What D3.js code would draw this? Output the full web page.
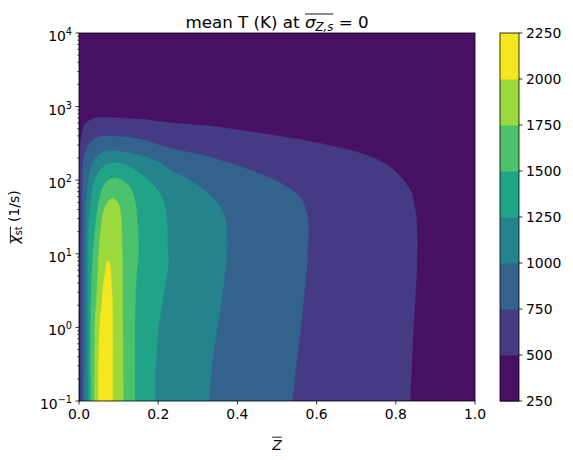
<!DOCTYPE html>
<html>
<head>
<meta charset="utf-8">
<script src="https://cdn.jsdelivr.net/npm/d3@7"></script>
<style>
  body { margin: 0; background: #fff; }
  text { font-family: "DejaVu Sans", sans-serif; fill: #000; }
</style>
</head>
<body>
<svg id="chart" width="573" height="460"></svg>
<script>
// contour levels (K) and the x / y ticks
var levels = [250, 500, 750, 1000, 1250, 1500, 1750, 2000, 2250];
var zTicks = [0, 0.2, 0.4, 0.6, 0.8, 1.0];
var chiDecades = [-1, 0, 1, 2, 3, 4];
// colour map spans the temperature range of the field (min, max, estimated)
var tempRange = [300, 2150];

// contour outlines: [Z, log10(chi_st)]
// each one runs up the left side, over the top and down the right side
var T500 = [[0.0025,-1],[0.0025,0.5],[0.002,1.6],[0.001,2.18],[0.0025,2.37],[0.005,2.55],[0.009,2.68],[0.015,2.77],[0.04,2.84],[0.07,2.85],[0.154,2.83],[0.229,2.78],[0.356,2.72],[0.48,2.62],[0.609,2.5],[0.727,2.34],[0.777,2.21],[0.811,2.05],[0.836,1.87],[0.848,1.64],[0.854,1.28],[0.853,0.83],[0.844,-0.08],[0.836,-1]];
var T750 = [[0.008,-1],[0.008,0.0],[0.0083,1.5],[0.0093,1.96],[0.011,2.25],[0.016,2.38],[0.03,2.52],[0.05,2.59],[0.078,2.6],[0.162,2.55],[0.23,2.43],[0.314,2.34],[0.398,2.2],[0.465,2.07],[0.516,1.94],[0.558,1.77],[0.575,1.55],[0.579,1.32],[0.578,1.19],[0.575,0.8],[0.558,-0.08],[0.538,-1]];
var T1000 = [[0.015,-1],[0.016,0.0],[0.017,1.2],[0.018,1.68],[0.023,1.98],[0.031,2.2],[0.045,2.33],[0.06,2.38],[0.078,2.4],[0.162,2.33],[0.2,2.25],[0.23,2.14],[0.28,2.0],[0.3225,1.84],[0.352,1.67],[0.369,1.5],[0.373,1.32],[0.373,1.0],[0.366,0.62],[0.348,-0.05],[0.336,-0.49],[0.327,-1]];
var T1250 = [[0.0235,-1],[0.0235,0.0],[0.0235,1.05],[0.025,1.41],[0.032,1.78],[0.04,2.0],[0.057,2.16],[0.08,2.23],[0.11,2.22],[0.141,2.14],[0.184,1.96],[0.213,1.73],[0.221,1.5],[0.224,1.05],[0.2255,0.87],[0.213,0.42],[0.2,-0.035],[0.194,-0.49],[0.193,-1]];
var T1500 = [[0.0303,-1],[0.0295,-0.17],[0.032,0.6],[0.036,1.05],[0.0447,1.5],[0.053,1.78],[0.066,1.96],[0.09,2.03],[0.1245,1.935],[0.141,1.73],[0.147,1.46],[0.15,1.05],[0.144,0.64],[0.141,-0.035],[0.141,-1]];
var T1750 = [[0.0386,-1],[0.04,-0.17],[0.04,0.035],[0.0447,0.42],[0.049,0.87],[0.0505,1.05],[0.057,1.41],[0.066,1.64],[0.083,1.75],[0.099,1.69],[0.106,1.5],[0.109,1.05],[0.11,0.42],[0.112,-1]];
var T2000 = [[0.049,-1],[0.049,-0.715],[0.051,-0.17],[0.053,0.056],[0.057,0.28],[0.061,0.55],[0.066,0.735],[0.07,0.87],[0.074,0.9],[0.078,0.87],[0.081,0.64],[0.084,0.37],[0.085,-0.17],[0.085,-1]];

var outlines = [T500, T750, T1000, T1250, T1500, T1750, T2000];

var svg = d3.select("#chart");
var plot = {left: 79, right: 475, top: 33, bottom: 401};
var cbar = {left: 500, right: 519};

var x = d3.scaleLinear().domain([0, 1]).range([plot.left, plot.right]);
var y = d3.scaleLog().domain([0.1, 1e4]).range([plot.bottom, plot.top]);
var cy = d3.scaleLinear().domain([levels[0], levels[levels.length - 1]]).range([plot.bottom, plot.top]);
var norm = d3.scaleLinear().domain(tempRange).range([0, 1]).clamp(true);

// each band takes the colour of its mid value, like contourf does
var bandColor = function(i) {
    return d3.interpolateViridis(norm((levels[i] + levels[i + 1]) / 2));
};

svg.append("clipPath").attr("id", "clip")
    .append("rect")
    .attr("x", plot.left).attr("y", plot.top)
    .attr("width", plot.right - plot.left).attr("height", plot.bottom - plot.top);

var field = svg.append("g").attr("clip-path", "url(#clip)");

field.append("rect")
    .attr("x", plot.left).attr("y", plot.top)
    .attr("width", plot.right - plot.left).attr("height", plot.bottom - plot.top)
    .attr("fill", bandColor(0));

var line = d3.line()
    .x(function (d) { return x(d[0]); })
    .y(function (d) { return y(Math.pow(10, d[1])); })
    .curve(d3.curveCatmullRom.alpha(0.5));

field.selectAll("path.band")
    .data(outlines)
    .enter().append("path")
    .attr("class", "band")
    .attr("d", function (d) { return line(d) + "Z"; })
    .attr("fill", function (d, i) { return bandColor(i + 1); })
    .attr("stroke", function (d, i) { return bandColor(i + 1); })
    .attr("stroke-width", 0.5);

// frame
svg.append("rect")
    .attr("x", plot.left).attr("y", plot.top)
    .attr("width", plot.right - plot.left).attr("height", plot.bottom - plot.top)
    .attr("fill", "none").attr("stroke", "#000").attr("stroke-width", 0.8);

// x axis
var xAxis = svg.append("g");
zTicks.forEach(function (t) {
    xAxis.append("line")
        .attr("x1", x(t)).attr("x2", x(t))
        .attr("y1", plot.bottom).attr("y2", plot.bottom + 3.5)
        .attr("stroke", "#000").attr("stroke-width", 0.8);
    xAxis.append("text")
        .attr("x", x(t)).attr("y", plot.bottom + 18)
        .attr("text-anchor", "middle")
        .attr("font-size", 13.9)
        .text(t.toFixed(1));
});

// y axis, log decades + minor ticks
var yAxis = svg.append("g");
chiDecades.forEach(function (p) {
    var v = Math.pow(10, p);
    yAxis.append("line")
        .attr("x1", plot.left - 3.5).attr("x2", plot.left)
        .attr("y1", y(v)).attr("y2", y(v))
        .attr("stroke", "#000").attr("stroke-width", 0.8);
    var lab = yAxis.append("text")
        .attr("x", plot.left - 7).attr("y", y(v) + 8)
        .attr("text-anchor", "end")
        .attr("font-size", 13.9);
    lab.append("tspan").text("10");
    lab.append("tspan").attr("dy", -6).attr("font-size", 9.7)
        .text(p < 0 ? "\u2212" + (-p) : String(p));
    if (p < 4) {
        for (var m = 2; m <= 9; m++) {
            yAxis.append("line")
                .attr("x1", plot.left - 2).attr("x2", plot.left)
                .attr("y1", y(m * v)).attr("y2", y(m * v))
                .attr("stroke", "#000").attr("stroke-width", 0.6);
        }
    }
});

// colorbar
var cb = svg.append("g");
cb.selectAll("rect.cb")
    .data(levels.slice(0, -1))
    .enter().append("rect")
    .attr("class", "cb")
    .attr("x", cbar.left)
    .attr("y", function (d, i) { return cy(levels[i + 1]); })
    .attr("width", cbar.right - cbar.left)
    .attr("height", function (d, i) { return cy(levels[i]) - cy(levels[i + 1]) + 0.5; })
    .attr("fill", function (d, i) { return bandColor(i); });
cb.append("rect")
    .attr("x", cbar.left).attr("y", plot.top)
    .attr("width", cbar.right - cbar.left).attr("height", plot.bottom - plot.top)
    .attr("fill", "none").attr("stroke", "#000").attr("stroke-width", 0.8);
levels.forEach(function (l) {
    cb.append("line")
        .attr("x1", cbar.right).attr("x2", cbar.right + 3.5)
        .attr("y1", cy(l)).attr("y2", cy(l))
        .attr("stroke", "#000").attr("stroke-width", 0.8);
    cb.append("text")
        .attr("x", cbar.right + 7).attr("y", cy(l) + 5)
        .attr("font-size", 13.9)
        .text(l);
});

// text made of pieces, with subscripts and an overline over some chars
var mathText = function(g, pieces, size, over, overHeight) {
    var t = g.append("text").attr("font-size", size);
    var shift = 0;
    pieces.forEach(function (p) {
        var s = p.sub ? size * 0.22 : 0;
        var ts = t.append("tspan").text(p.t).attr("dy", s - shift);
        if (p.sub) ts.attr("font-size", size * 0.7);
        if (p.italic) ts.attr("font-style", "italic");
        shift = s;
    });
    var node = t.node();
    var w = node.getComputedTextLength();
    t.attr("x", -w / 2);
    if (over) {
        var a = node.getStartPositionOfChar(over[0]).x;
        var b = node.getEndPositionOfChar(over[1]).x;
        g.append("line")
            .attr("x1", a).attr("x2", b)
            .attr("y1", -overHeight).attr("y2", -overHeight)
            .attr("stroke", "#000").attr("stroke-width", 0.9);
    }
    return t;
};

var title = svg.append("g").attr("transform", "translate(" + ((plot.left + plot.right) / 2) + ",27.5)");
mathText(title, [
    {t: "mean T (K) at "},
    {t: "\u03c3", italic: true},
    {t: "Z,s", sub: true, italic: true},
    {t: " = 0"}
], 16.7, [14, 17], 13.5);

var xlab = svg.append("g").attr("transform", "translate(" + ((plot.left + plot.right) / 2) + ",450)");
mathText(xlab, [{t: "Z", italic: true}], 13.9, [0, 0], 12.8);

var ylab = svg.append("g").attr("transform", "translate(19," + ((plot.top + plot.bottom) / 2) + ") rotate(-90)");
mathText(ylab, [
    {t: "\u03c7", italic: true},
    {t: "st", sub: true},
    {t: " (1/s)"}
], 13.9, [0, 2], 8.6);
</script>
</body>
</html>
